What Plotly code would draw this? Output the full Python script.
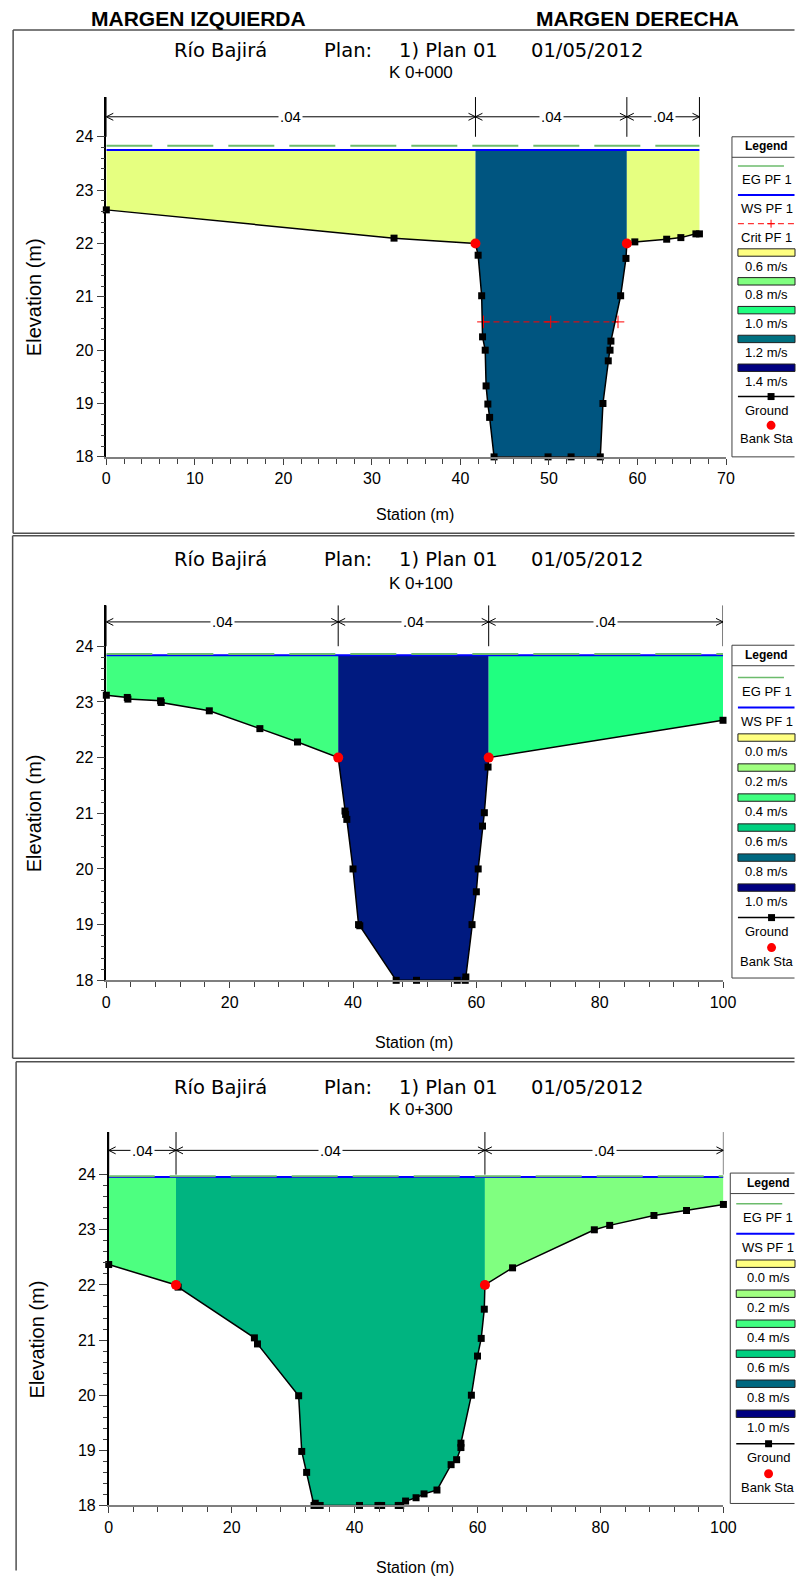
import plotly.graph_objects as go

# target picture size, the html body margin, and the capture scale measured on earlier renders
W, H = 804, 1581
M = 8
SX, SY = 0.984, 0.994
FW, FH = 800, 1572

# ---------------- data ----------------
header_labels = ["MARGEN IZQUIERDA", "MARGEN DERECHA"]
title_parts = ["Río Bajirá", "Plan:", "1) Plan 01", "01/05/2012"]
x_title = "Station (m)"
y_title = "Elevation (m)"
y_ticks = [18, 19, 20, 21, 22, 23, 24]

# Section K 0+000
s1_name = "K 0+000"
s1_station = [0, 32.5, 41.7, 42.0, 42.4, 42.5, 42.8, 42.9, 43.1, 43.3, 43.8, 49.9, 52.5, 55.8,
              56.1, 56.7, 56.9, 57.0, 58.1, 58.7, 58.8, 59.7, 63.3, 64.9, 66.6, 67.0]
s1_elev = [22.63, 22.10, 22.00, 21.78, 21.02, 20.25, 20.00, 19.33, 18.99, 18.74, 18.00, 18.00, 18.00, 18.00,
           19.00, 19.80, 20.00, 20.17, 21.02, 21.72, 22.00, 22.03, 22.08, 22.11, 22.18, 22.18]
s1_banks = [41.7, 58.8]
s1_ws = 23.75
s1_eg = 23.83
s1_crit = 20.53
s1_crit_ends = [42.6, 57.8]
s1_n = [".04", ".04", ".04"]
s1_zone_colors = ["#E6FF80", "#005580", "#E6FF80"]
s1_leg_labels = ["0.6 m/s", "0.8 m/s", "1.0 m/s", "1.2 m/s", "1.4 m/s"]
s1_leg_colors = ["#FFFF80", "#80FF80", "#20FF80", "#007080", "#000080"]

# Section K 0+100
s2_name = "K 0+100"
s2_station = [0, 3.4, 3.5, 8.8, 8.9, 16.7, 24.9, 31.0, 37.6, 38.7, 38.8, 39.0, 40.0, 40.9, 41.1,
              47.0, 50.3, 56.9, 58.2, 58.3, 59.3, 60.0, 60.3, 61.0, 61.3, 61.9, 62.0, 100.0]
s2_elev = [23.12, 23.08, 23.05, 23.02, 22.99, 22.84, 22.52, 22.28, 22.00, 21.04, 20.98, 20.89, 20.00, 19.00, 18.98,
           18.00, 18.00, 18.00, 18.00, 18.06, 19.00, 19.59, 20.00, 20.77, 21.01, 21.83, 22.00, 22.67]
s2_banks = [37.6, 62.0]
s2_ws = 23.84
s2_eg = 23.86
s2_n = [".04", ".04", ".04"]
s2_zone_colors = ["#40FF80", "#001A80", "#20FF80"]
s2_leg_labels = ["0.0 m/s", "0.2 m/s", "0.4 m/s", "0.6 m/s", "0.8 m/s", "1.0 m/s"]
s2_leg_colors = ["#FFFF80", "#A0FF80", "#40FF80", "#00D080", "#006880", "#000080"]

# Section K 0+300
s3_name = "K 0+300"
s3_station = [0, 10.95, 11.3, 23.7, 24.2, 30.9, 31.4, 32.2, 33.4, 33.6, 34.4, 40.8, 43.8, 44.4, 47.1, 47.5,
              48.3, 50.0, 51.3, 53.4, 55.7, 56.6, 57.3, 57.3, 59.0, 60.0, 60.6, 61.1, 61.2,
              65.7, 79.0, 81.5, 88.7, 94.0, 100.0]
s3_elev = [22.37, 22.00, 21.96, 21.04, 20.93, 19.99, 18.98, 18.60, 18.00, 18.04, 18.00, 18.00, 18.00, 18.00, 18.00, 18.00,
           18.08, 18.14, 18.21, 18.28, 18.74, 18.83, 19.05, 19.13, 20.00, 20.71, 21.03, 21.56, 22.00,
           22.31, 23.00, 23.08, 23.26, 23.35, 23.46]
s3_banks = [10.95, 61.2]
s3_ws = 23.96
s3_eg = 23.97
s3_n = [".04", ".04", ".04"]
s3_zone_colors = ["#4DFF80", "#00B480", "#80FF80"]
s3_leg_labels = ["0.0 m/s", "0.2 m/s", "0.4 m/s", "0.6 m/s", "0.8 m/s", "1.0 m/s"]
s3_leg_colors = ["#FFFF80", "#A0FF80", "#40FF80", "#00D080", "#006880", "#000080"]

# ---------------- layout geometry (target picture pixels) ----------------
REG = "Liberation Sans, Arial, sans-serif"
TITLEF = "DejaVu Sans, Liberation Sans, Arial, sans-serif"

panels = [
    dict(name=s1_name, sta=s1_station, elev=s1_elev, banks=s1_banks, ws=s1_ws, eg=s1_eg,
         crit=s1_crit, crit_ends=s1_crit_ends, n=s1_n, zc=s1_zone_colors,
         ll=s1_leg_labels, lc=s1_leg_colors,
         xpx=(102.7, 725.7), y24=136.7, y18=456.7, ytop=97.0, arrow=116.7,
         xrange=(0, 70), dtick=10, mdtick=2,
         title_y=50.7, sub_y=72.7, frame=(9, 30, 533), xlab=(413, 514), ylab=(30, 297),
         leg=dict(left=731.7, top=136.7, bottom=456.7, first=29.3, step=28.8, tx=766.7, sx=771)),
    dict(name=s2_name, sta=s2_station, elev=s2_elev, banks=s2_banks, ws=s2_ws, eg=s2_eg,
         crit=None, crit_ends=None, n=s2_n, zc=s2_zone_colors,
         ll=s2_leg_labels, lc=s2_leg_colors,
         xpx=(102.7, 722.7), y24=646.0, y18=980.0, ytop=605.0, arrow=621.7,
         xrange=(0, 100), dtick=20, mdtick=4,
         title_y=559.3, sub_y=583.3, frame=(8.5, 535.5, 1058), xlab=(412, 1041.7), ylab=(30, 813),
         leg=dict(left=731.7, top=645.0, bottom=977.7, first=32.3, step=30.0, tx=766.7, sx=771.5)),
    dict(name=s3_name, sta=s3_station, elev=s3_elev, banks=s3_banks, ws=s3_ws, eg=s3_eg,
         crit=None, crit_ends=None, n=s3_n, zc=s3_zone_colors,
         ll=s3_leg_labels, lc=s3_leg_colors,
         xpx=(105.1, 723.1), y24=1174.3, y18=1505.0, ytop=1131.7, arrow=1150.0,
         xrange=(0, 100), dtick=20, mdtick=4,
         title_y=1087.5, sub_y=1109.5, frame=(12, 1061.5, None), xlab=(413, 1567), ylab=(33, 1339),
         leg=dict(left=730.0, top=1172.7, bottom=1503.0, first=30.6, step=30.0, tx=768.0, sx=768.5)),
]
title_x = [169, 320, 395, 528]
sub_x = 419


def PX(x):
    return min(max((x / SX - M) / FW, 0.0), 1.0)


def PY(y):
    return min(max(1 - (y / SY - M) / FH, 0.0), 1.0)


XR = (FW - 0.5 + M) * SX   # right limit (target px) for lines running off the page
YB = (FH - 0.5 + M) * SY   # bottom limit (target px)


def hline(x0, x1, y, color, width, dash=None):
    ln = dict(color=color, width=width)
    if dash:
        ln["dash"] = dash
    return dict(type="line", xref="paper", yref="paper", x0=PX(x0), x1=PX(x1), y0=PY(y), y1=PY(y), line=ln)


def vline(x, y0, y1, color, width):
    return dict(type="line", xref="paper", yref="paper", x0=PX(x), x1=PX(x), y0=PY(y0), y1=PY(y1),
                line=dict(color=color, width=width))


fig = go.Figure()
shapes = []
annotations = []
layout_axes = {}

for lab, cx in zip(header_labels, [195, 637]):
    annotations.append(dict(text="<b>%s</b>" % lab, x=PX(cx), y=PY(18.5), xref="paper", yref="paper",
                            showarrow=False, xanchor="center", yanchor="middle",
                            font=dict(family=REG, size=21, color="black")))

for k, p in enumerate(panels):
    sfx = "" if k == 0 else str(k + 1)
    xa, ya = "x" + sfx, "y" + sfx
    sta, elev = p["sta"], p["elev"]
    ppm_y = (p["y18"] - p["y24"]) / 6.0
    ppm_x = (p["xpx"][1] - p["xpx"][0]) / (p["xrange"][1] - p["xrange"][0])
    ytop_val = 24 + (p["y24"] - p["ytop"]) / ppm_y
    yarrow = 24 + (p["y24"] - p["arrow"]) / ppm_y

    layout_axes["xaxis" + sfx] = dict(
        domain=[PX(p["xpx"][0]), PX(p["xpx"][1])], range=list(p["xrange"]), anchor=ya,
        showgrid=False, zeroline=False, showline=True, linecolor="#7F7F7F", linewidth=2,
        ticks="outside", ticklen=6, tickwidth=1, tickcolor="#404040", dtick=p["dtick"], tick0=0,
        minor=dict(dtick=p["mdtick"], tick0=0, ticks="outside", ticklen=5, tickcolor="#404040", showgrid=False),
        tickfont=dict(family=REG, size=16, color="black"), fixedrange=True)
    layout_axes["yaxis" + sfx] = dict(
        domain=[PY(p["y18"]), PY(p["ytop"])], range=[18, ytop_val], anchor=xa,
        showgrid=False, zeroline=False, showline=True, linecolor="black", linewidth=1.5,
        ticks="outside", ticklen=8, tickwidth=1, tickcolor="#404040",
        tickmode="array", tickvals=y_ticks,
        minor=dict(tickmode="array", tickvals=[18 + 0.2 * i for i in range(1, 30) if i % 5 != 0],
                   ticks="outside", ticklen=4, tickcolor="#404040", showgrid=False),
        tickfont=dict(family=REG, size=16, color="black"), fixedrange=True)

    iL = sta.index(p["banks"][0])
    iR = sta.index(p["banks"][1])
    idx = [0, iL, iR, len(sta) - 1]
    # flow area fills
    for z in range(3):
        i0, i1 = idx[z], idx[z + 1]
        xs = sta[i0:i1 + 1] + [sta[i1], sta[i0]]
        ys = elev[i0:i1 + 1] + [p["ws"], p["ws"]]
        fig.add_trace(go.Scatter(x=xs, y=ys, fill="toself", fillcolor=p["zc"][z], mode="lines",
                                 line=dict(width=0, color=p["zc"][z]), hoverinfo="skip",
                                 xaxis=xa, yaxis=ya))
    # WS and EG
    fig.add_trace(go.Scatter(x=[sta[0], sta[-1]], y=[p["ws"], p["ws"]], mode="lines",
                             line=dict(color="#0000FF", width=2), xaxis=xa, yaxis=ya, cliponaxis=False))
    fig.add_trace(go.Scatter(x=[sta[0], sta[-1]], y=[p["eg"], p["eg"]], mode="lines",
                             line=dict(color="#6CBB6C", width=2, dash="46px,15px"), xaxis=xa, yaxis=ya,
                             cliponaxis=False))
    # critical
    if p["crit"] is not None:
        cl, cr = p["crit_ends"]
        fig.add_trace(go.Scatter(x=[cl, (cl + cr) / 2, cr], y=[p["crit"]] * 3, mode="lines+markers",
                                 line=dict(color="#FF0000", width=1, dash="6px,4px"),
                                 marker=dict(symbol="cross-thin", size=9, line=dict(color="#FF0000", width=1)),
                                 xaxis=xa, yaxis=ya))
    # ground
    fig.add_trace(go.Scatter(x=sta, y=elev, mode="lines+markers",
                             line=dict(color="black", width=1.5),
                             marker=dict(symbol="square", size=7, color="black"),
                             xaxis=xa, yaxis=ya, cliponaxis=False))
    # bank stations
    fig.add_trace(go.Scatter(x=p["banks"], y=[elev[iL], elev[iR]], mode="markers",
                             marker=dict(symbol="circle", size=10, color="#FF0000"),
                             xaxis=xa, yaxis=ya, cliponaxis=False))
    # roughness bars
    bnd = [sta[0], p["banks"][0], p["banks"][1], sta[-1]]
    vx, vy = [], []
    for b in bnd:
        vx += [b, b, None]
        vy += [24.0, ytop_val, None]
    hx = [bnd[0], bnd[-1]]
    hy = [yarrow, yarrow]
    dx = 7 / ppm_x
    dy = 3.5 / ppm_y
    ax_, ay_ = [], []
    for z in range(3):
        a, b = bnd[z], bnd[z + 1]
        ax_ += [a + dx, a, a + dx, None, b - dx, b, b - dx, None]
        ay_ += [yarrow + dy, yarrow, yarrow - dy, None, yarrow + dy, yarrow, yarrow - dy, None]
    fig.add_trace(go.Scatter(x=vx + hx + [None] + ax_, y=vy + hy + [None] + ay_, mode="lines",
                             line=dict(color="black", width=1), xaxis=xa, yaxis=ya, cliponaxis=False,
                             connectgaps=False))
    for z in range(3):
        annotations.append(dict(text=p["n"][z], x=(bnd[z] + bnd[z + 1]) / 2, y=yarrow, xref=xa, yref=ya,
                                showarrow=False, bgcolor="white", borderpad=1,
                                font=dict(family=REG, size=15, color="black")))

    # titles
    for t, tx in zip(title_parts, title_x):
        annotations.append(dict(text=t, x=PX(tx), y=PY(p["title_y"]), xref="paper", yref="paper",
                                showarrow=False, xanchor="left", yanchor="middle",
                                font=dict(family=TITLEF, size=19.5, color="black")))
    annotations.append(dict(text=p["name"], x=PX(sub_x), y=PY(p["sub_y"]), xref="paper", yref="paper",
                            showarrow=False, xanchor="center", yanchor="middle",
                            font=dict(family=REG, size=17, color="black")))
    # axis titles
    annotations.append(dict(text=x_title, x=PX(p["xlab"][0]), y=PY(p["xlab"][1]), xref="paper", yref="paper",
                            showarrow=False, xanchor="center", yanchor="middle",
                            font=dict(family=REG, size=16, color="black")))
    annotations.append(dict(text=y_title, x=PX(p["ylab"][0]), y=PY(p["ylab"][1]), xref="paper", yref="paper",
                            showarrow=False, xanchor="center", yanchor="middle", textangle=-90,
                            font=dict(family=REG, size=20, color="black")))
    # panel frame (left, top, bottom edges; right edge runs off the page)
    fx, fy0, fy1 = p["frame"]
    fy_end = fy1 if fy1 is not None else YB
    shapes.append(hline(fx, XR, fy0, "#505050", 1.5))
    shapes.append(vline(fx, fy0, fy_end, "#505050", 1.5))
    if fy1 is not None:
        shapes.append(hline(fx, XR, fy1, "#505050", 1.5))

    # legend box
    lg = p["leg"]
    L, T, B = lg["left"], lg["top"], lg["bottom"]
    shapes.append(dict(type="rect", xref="paper", yref="paper", x0=PX(L), x1=1, y0=PY(B), y1=PY(T),
                       line=dict(width=0), fillcolor="white"))
    shapes.append(hline(L, XR, T, "#404040", 1))
    shapes.append(hline(L, XR, B, "#404040", 1))
    shapes.append(vline(L, T, B, "#404040", 1))
    shapes.append(hline(L, XR, T + 20.5, "#404040", 1))
    annotations.append(dict(text="<b>Legend</b>", x=PX(lg["tx"]), y=PY(T + 9.5), xref="paper", yref="paper",
                            showarrow=False, xanchor="center", yanchor="middle",
                            font=dict(family=REG, size=12, color="black")))
    items = [("EG PF 1", "eg"), ("WS PF 1", "ws")]
    if p["crit"] is not None:
        items.append(("Crit PF 1", "crit"))
    for lab, c in zip(p["ll"], p["lc"]):
        items.append((lab, c))
    items += [("Ground", "ground"), ("Bank Sta", "bank")]
    for j, (lab, kind) in enumerate(items):
        ys = T + lg["first"] + j * lg["step"]
        yt = ys + 13.6
        if kind == "eg":
            shapes.append(hline(L + 6, XR, ys, "#6CBB6C", 1.5, "46px,15px"))
        elif kind == "ws":
            shapes.append(hline(L + 6, XR, ys, "#0000FF", 2))
        elif kind == "crit":
            shapes.append(hline(L + 6, XR, ys, "#FF0000", 1, "6px,4px"))
            shapes.append(vline(lg["sx"], ys - 4, ys + 4, "#FF0000", 1))
            shapes.append(hline(lg["sx"] - 4, lg["sx"] + 4, ys, "#FF0000", 1))
        elif kind == "ground":
            shapes.append(hline(L + 6, XR, ys, "black", 1.5))
            shapes.append(dict(type="rect", xref="paper", yref="paper", x0=PX(lg["sx"] - 3.5), x1=PX(lg["sx"] + 3.5),
                               y0=PY(ys + 3.5), y1=PY(ys - 3.5), fillcolor="black", line=dict(width=0)))
        elif kind == "bank":
            shapes.append(dict(type="circle", xref="paper", yref="paper", x0=PX(lg["sx"] - 4.5), x1=PX(lg["sx"] + 4.5),
                               y0=PY(ys + 4.5), y1=PY(ys - 4.5), fillcolor="#FF0000", line=dict(width=0)))
        else:
            shapes.append(dict(type="rect", xref="paper", yref="paper", x0=PX(L + 6), x1=PX(L + 71),
                               y0=PY(ys + 3.7), y1=PY(ys - 3.7), fillcolor=kind,
                               line=dict(color="#202020", width=1)))
        annotations.append(dict(text=lab, x=PX(lg["tx"]), y=PY(yt), xref="paper", yref="paper",
                                showarrow=False, xanchor="center", yanchor="middle",
                                font=dict(family=REG, size=13, color="black")))

fig.update_layout(width=FW, height=FH, autosize=False, margin=dict(l=0, r=0, t=0, b=0), showlegend=False,
                  paper_bgcolor="white", plot_bgcolor="white", shapes=shapes, annotations=annotations,
                  **layout_axes)
fig.write_html("out.html", config={"responsive": False, "displayModeBar": False})
